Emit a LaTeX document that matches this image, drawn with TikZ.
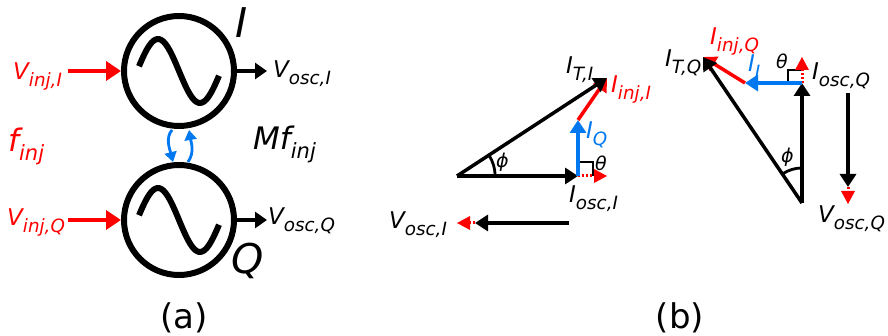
\documentclass[tikz,border=0pt]{standalone}
\usepackage{fontspec}
\setmainfont{DejaVu Sans}
\usepackage{xcolor}
\usepackage{tikz}
\usetikzlibrary{arrows.meta, positioning, calc}
\definecolor{phasorblue}{RGB}{0,120,240}
% symbol with subscript: size, subscript size, letter, subscript
\newcommand{\symsub}[4]{{\fontsize{#1}{#1}\selectfont\itshape #3\raisebox{-0.27em}{\fontsize{#2}{#1}\selectfont #4}}}
\newcommand{\vecsym}[2]{\symsub{23pt}{18.3pt}{#1}{#2}}

\begin{document}
\begin{tikzpicture}[
  x=1pt, y=-1pt,
  osc/.style={draw, circle, line width=6pt, minimum size=110pt, inner sep=0pt},
  lbl/.style={inner sep=0pt, anchor=base west},
  wave/.style={line width=6pt, line cap=butt, line join=round},
  feed/.style={-{Triangle[length=15pt,width=19pt]}, line width=3.8pt, red},
  outarrow/.style={-{Triangle[length=12pt,width=16pt]}, line width=3.2pt},
  phasor/.style={-{Triangle[length=13pt,width=16pt]}, line width=3.5pt},
  inj/.style={phasor, red},
  quad/.style={phasor, phasorblue},
  extra/.style={red, line width=3pt, dash pattern=on 2pt off 2pt},
  redtip/.style={red, draw=none, fill=red},
  couple/.style={-{Triangle[length=10pt,width=12pt]}, line width=2.8pt, phasorblue},
  anglemark/.style={line width=2.8pt},
  greek/.style={lbl, font=\fontsize{19}{19}\selectfont\itshape}
]
  \useasboundingbox (0,0) rectangle (888,336);

  % oscillators
  \node[osc] (osci) at (179,71) {};
  \node[osc] (oscq) at (179,220) {};
  \foreach \c in {osci,oscq} {
    \draw[wave, shift={(\c.center)}] plot[smooth, samples=40, domain=-40:40] (\x,{32*sin(\x*360/84)});
  }
  \node[lbl, font=\fontsize{41}{41}\selectfont\itshape] (labi) at (235,38) {I};
  \node[lbl, font=\fontsize{41}{41}\selectfont\itshape] (labq) at (231,274) {Q};

  % inputs and outputs
  \coordinate (ini) at (68,71);
  \coordinate (inq) at (68,220);
  \coordinate (outi) at (267,71);
  \coordinate (outq) at (267,220);
  \draw[feed] (ini) -- (osci.west);
  \draw[feed] (inq) -- (oscq.west);
  \draw[outarrow] (osci.east) -- (outi);
  \draw[outarrow] (oscq.east) -- (outq);
  \node[lbl, red] (vinji) at (13,80) {\vecsym{V}{inj,I}};
  \node[lbl, red] (vinjq) at (7,226) {\vecsym{V}{inj,Q}};
  \node[lbl] (vosci) at (273,78) {\vecsym{V}{osc,I}};
  \node[lbl] (voscq) at (268,225) {\vecsym{V}{osc,Q}};
  \node[lbl, red] (finj) at (8,152) {\symsub{31pt}{21pt}{f}{inj}};
  \node[lbl] (mfinj) at (253,150) {\symsub{31pt}{21pt}{Mf}{inj}};

  % coupling
  \coordinate (ca) at (172,130);
  \coordinate (cb) at (173,162);
  \coordinate (cc) at (188,162);
  \coordinate (cd) at (189,130);
  \draw[couple] (ca) .. controls +(-7,8) and +(-3,-12) .. (cb);
  \draw[couple] (cc) .. controls +(7,-10) and +(2,12) .. (cd);

  \node[font=\fontsize{34}{34}\selectfont] (capa) at (184,318) {(a)};
  \node[font=\fontsize{34}{34}\selectfont] (capb) at (680,318) {(b)};

  % I phasors
  \coordinate (oi) at (457,176);
  \coordinate (ioi) at (578,176);
  \coordinate (xi) at (607,176);
  \coordinate (qi) at (578,120);
  \coordinate (ti) at (607,78);
  \draw[anglemark] (578,162) -| (593,176);
  \draw[extra] (ioi) -- (594,176);
  \draw[redtip] (xi) -- ++(-13,-7) -- ++(0,14) -- cycle;
  \draw[phasor] (oi) -- (ioi);
  \draw[quad] (ioi) -- (qi);
  \draw[inj] (qi) -- (ti);
  \draw[phasor] (oi) -- (ti);
  \draw[anglemark] (489,155.3) arc[start angle=-33, end angle=0, radius=38];
  \node[greek] (phii) at (496,168) {ϕ};
  \node[greek] (thetai) at (595,171) {θ};
  \node[lbl] (iti) at (566,74) {\vecsym{I}{T,I}};
  \node[lbl, red] (iinji) at (611,93) {\vecsym{I}{inj,I}};
  \node[lbl, phasorblue] (iqi) at (586,139) {\vecsym{I}{Q}};
  \node[lbl] (iosci) at (569,203) {\vecsym{I}{osc,I}};

  % V at I
  \coordinate (vis) at (569,223);
  \coordinate (vie) at (475,223);
  \coordinate (vix) at (457,223);
  \draw[phasor] (vis) -- (vie);
  \draw[extra] (475,223) -- (470,223);
  \draw[redtip] (vix) -- ++(13,-7) -- ++(0,14) -- cycle;
  \node[lbl] (vlabi) at (389,229) {\vecsym{V}{osc,I}};

  % Q phasors
  \coordinate (oq) at (802,203);
  \coordinate (ioq) at (802,83);
  \coordinate (xq) at (802,57);
  \coordinate (qq) at (745,83);
  \coordinate (tq) at (703,57);
  \draw[anglemark] (788,83) |- (802,70);
  \draw[extra] (ioq) -- (802,70);
  \draw[redtip] (xq) -- ++(-7,13) -- ++(14,0) -- cycle;
  \draw[phasor] (oq) -- (ioq);
  \draw[quad] (ioq) -- (qq);
  \draw[inj] (qq) -- (tq);
  \draw[phasor] (oq) -- (tq);
  \draw[anglemark] (783,173.6) arc[start angle=-123, end angle=-90, radius=35];
  \node[greek] (phiq) at (781,163) {ϕ};
  \node[greek] (thetaq) at (776,69) {θ};
  \node[lbl] (itq) at (665,67) {\vecsym{I}{T,Q}};
  \node[lbl, red] (iinjq) at (710,45) {\vecsym{I}{inj,Q}};
  \node[lbl, phasorblue] (iiq) at (748,72) {\vecsym{I}{I}};
  \node[lbl] (ioscq) at (812,80) {\vecsym{I}{osc,Q}};

  % V at Q
  \coordinate (vqs) at (848,93);
  \coordinate (vqe) at (848,187);
  \coordinate (vqx) at (848,204);
  \draw[phasor] (vqs) -- (vqe);
  \draw[extra] (848,187) -- (848,192);
  \draw[redtip] (vqx) -- ++(-7,-13) -- ++(14,0) -- cycle;
  \node[lbl] (vlabq) at (818,223) {\vecsym{V}{osc,Q}};
\end{tikzpicture}
\end{document}
